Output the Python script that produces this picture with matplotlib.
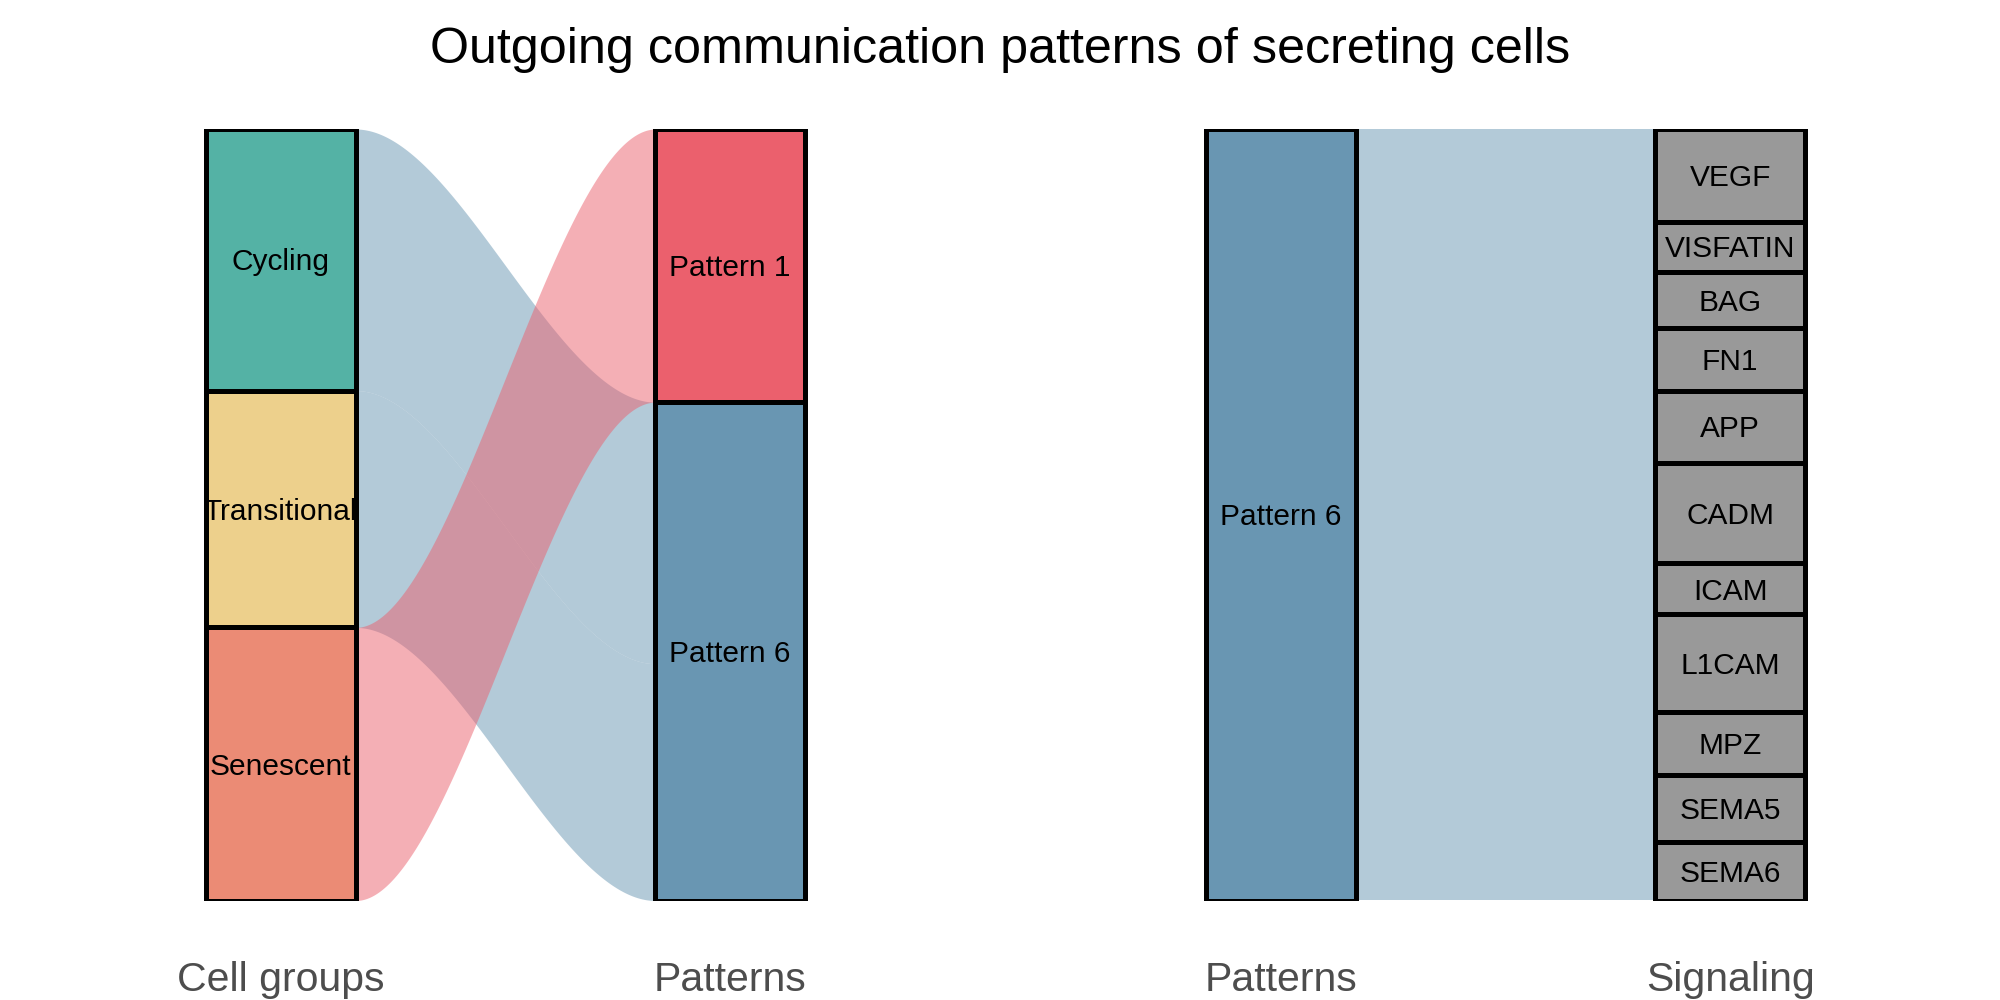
import numpy as np
import matplotlib
matplotlib.use("Agg")
import matplotlib.pyplot as plt
from matplotlib import transforms

plt.rcParams["font.family"] = ["Liberation Sans", "DejaVu Sans"]

# ---------------- data ----------------
TITLE = "Outgoing communication patterns of secreting cells"

cell_groups = ["Cycling", "Transitional", "Senescent"]
cell_patterns = ["Pattern 6", "Pattern 6", "Pattern 1"]
cell_contrib = [0.339, 0.307, 0.354]

patterns = ["Pattern 1", "Pattern 6"]

signal_pattern = "Pattern 6"
signaling = ["VEGF", "VISFATIN", "BAG", "FN1", "APP", "CADM", "ICAM",
             "L1CAM", "MPZ", "SEMA5", "SEMA6"]
signal_contrib = [0.120, 0.065, 0.073, 0.081, 0.094, 0.130, 0.066,
                  0.127, 0.081, 0.087, 0.076]

axis_titles_left = ["Cell groups", "Patterns"]
axis_titles_right = ["Patterns", "Signaling"]

# ---------------- style ----------------
cell_colors = {"Cycling": "#54B2A5", "Transitional": "#EDD08C", "Senescent": "#EB8B75"}
pattern_colors = {"Pattern 1": "#EB606D", "Pattern 6": "#6996B2"}
signal_color = "#999999"
FLOW_ALPHA = 0.5
BOX_W = 1 / 3
EDGE_LW = 3.6
LABEL_FS = 21.5
AXIS_FS = 29.5
TITLE_FS = 36.2


def stack_from_top(values):
    """return (top, bottom) of each stacked block, first one on top"""
    total = sum(values)
    tops, bots = [], []
    cur = total
    for v in values:
        tops.append(cur)
        bots.append(cur - v)
        cur -= v
    return tops, bots


def flow(ax, x0, x1, t0, b0, t1, b1, color):
    x = np.linspace(x0, x1, 300)
    t = (x - x0) / (x1 - x0)
    s = 3 * t ** 2 - 2 * t ** 3
    ax.fill_between(x, t0 + (t1 - t0) * s, b0 + (b1 - b0) * s,
                    color=color, alpha=FLOW_ALPHA, lw=0, zorder=1)


def node_label(ax, x, y, text):
    # center the cap height on the box middle (like R's text vjust)
    ax.annotate(text, (x, y), xytext=(0, -0.358 * LABEL_FS), textcoords="offset points",
                ha="center", va="baseline", fontsize=LABEL_FS, color="black", zorder=4)


def draw_axis(ax, nodes_left, vals_left, cols_left, nodes_right, vals_right, cols_right,
              links, titles):
    total = sum(vals_left)
    lt, lb = stack_from_top(vals_left)
    rt, rb = stack_from_top(vals_right)

    # flows: lodes are stacked top-down inside each node in link order
    left_cursor = {n: lt[i] for i, n in enumerate(nodes_left)}
    right_cursor = {n: rt[i] for i, n in enumerate(nodes_right)}
    for src, dst, v in links:
        t0 = left_cursor[src]
        left_cursor[src] = t0 - v
        t1 = right_cursor[dst]
        right_cursor[dst] = t1 - v
        col = pattern_colors.get(dst, pattern_colors.get(src))
        flow(ax, 1 + BOX_W / 2, 2 - BOX_W / 2, t0, t0 - v, t1, t1 - v, col)

    ax.bar([1] * len(nodes_left), vals_left, bottom=lb, width=BOX_W, color=cols_left,
           edgecolor="black", linewidth=EDGE_LW, zorder=3)
    ax.bar([2] * len(nodes_right), vals_right, bottom=rb, width=BOX_W, color=cols_right,
           edgecolor="black", linewidth=EDGE_LW, zorder=3)

    for n, t, b in zip(nodes_left, lt, lb):
        node_label(ax, 1, (t + b) / 2, n)
    for n, t, b in zip(nodes_right, rt, rb):
        node_label(ax, 2, (t + b) / 2, n)

    ax.set_xlim(0.376, 2.6)
    ax.set_ylim(0, total)
    ax.axis("off")

    tr = transforms.blended_transform_factory(ax.transData, fig.transFigure)
    for x, s in zip([1, 2], titles):
        ax.text(x, 0.0093, s, transform=tr, ha="center", va="baseline",
                fontsize=AXIS_FS, color="#4D4D4D")


fig = plt.figure(figsize=(20, 10), dpi=100)

# left panel: cell groups -> patterns
pat_vals = [sum(v for p, v in zip(cell_patterns, cell_contrib) if p == pat) for pat in patterns]
ax1 = fig.add_axes([0.0, 0.0995, 0.5, 0.7715])
draw_axis(ax1, cell_groups, cell_contrib, [cell_colors[c] for c in cell_groups],
          patterns, pat_vals, [pattern_colors[p] for p in patterns],
          list(zip(cell_groups, cell_patterns, cell_contrib)), axis_titles_left)

# right panel: patterns -> signaling
ax2 = fig.add_axes([0.5, 0.0995, 0.5, 0.7715])
draw_axis(ax2, [signal_pattern], [sum(signal_contrib)], [pattern_colors[signal_pattern]],
          signaling, signal_contrib, [signal_color] * len(signaling),
          [(signal_pattern, s, v) for s, v in zip(signaling, signal_contrib)],
          axis_titles_right)

fig.text(0.5, 0.937, TITLE, ha="center", va="baseline", fontsize=TITLE_FS)

fig.savefig("out.png", dpi=100)
